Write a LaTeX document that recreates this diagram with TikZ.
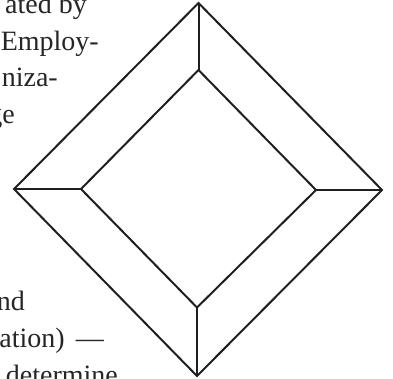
\documentclass[tikz,border=0pt]{standalone}
\usepackage{fontspec}
\setmainfont{Liberation Serif}
\begin{document}
\begin{tikzpicture}[x=1pt,y=-1pt,
  edge/.style={line width=2pt,line join=miter,color=black!88},
  txt/.style={anchor=base east,inner sep=0pt,text=black!85,font=\fontsize{28}{37}\selectfont}]
\useasboundingbox (0,0) rectangle (393,378);
% outer diamond
\coordinate (ot) at (198.5,3);
\coordinate (or) at (382,190);
\coordinate (ob) at (197,376);
\coordinate (ol) at (14,189);
% inner diamond
\coordinate (it) at (198.5,70);
\coordinate (ir) at (316,190);
\coordinate (ib) at (197,307.5);
\coordinate (il) at (81,189);
\draw[edge] (ot) -- (or) -- (ob) -- (ol) -- cycle;
\draw[edge] (it) -- (ir) -- (ib) -- (il) -- cycle;
\draw[edge] (ot) -- (it);
\draw[edge] (or) -- (ir);
\draw[edge] (ob) -- (ib);
\draw[edge] (ol) -- (il);
% cut-off text on the left
\node[txt] (t1) at (87,13.5) {ated by};
\node[txt] (t2) at (99,50) {Employ-};
\node[txt] (t3) at (58,86.5) {niza-};
\node[txt] (t4) at (15,123) {ge};
\node[txt] (t5) at (25,310) {nd};
\node[txt] (t6) at (104,347) {ation)\hspace{11pt}—};
\node[txt] (t7) at (118,384) {determine};
\end{tikzpicture}
\end{document}
